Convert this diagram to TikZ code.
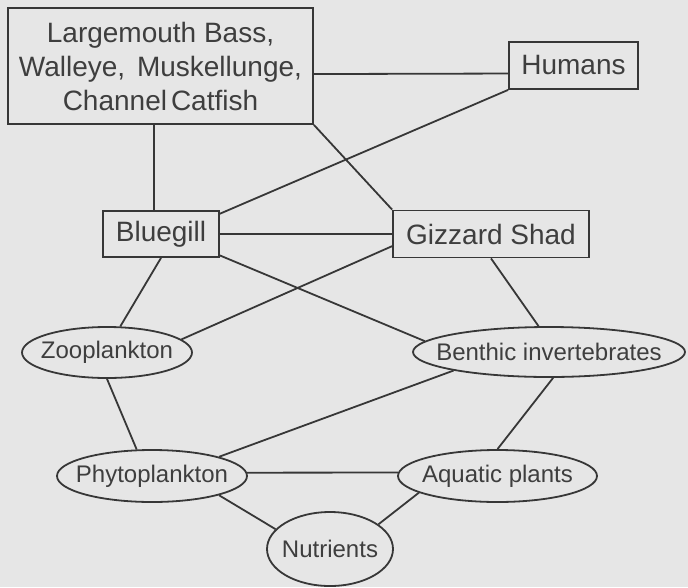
\documentclass[tikz,border=0pt]{standalone}
\usepackage{fontspec}
\setmainfont{Liberation Sans}
\usetikzlibrary{shapes.geometric}
\definecolor{bgc}{RGB}{230,230,230}
\definecolor{ink}{RGB}{55,55,55}
\definecolor{txt}{RGB}{62,62,62}
\tikzset{
  boxnode/.style={draw=ink, line width=1.8pt, rectangle, inner sep=0pt, text=txt,
    font=\fontsize{28}{34}\selectfont, align=center},
  ovalnode/.style={draw=ink, line width=1.8pt, ellipse, inner sep=0pt},
  ovaltext/.style={text=txt, font=\fontsize{24}{28}\selectfont, inner sep=0pt},
  link/.style={draw=ink, line width=1.8pt}
}
\begin{document}
\begin{tikzpicture}[x=1pt,y=-1pt]
\fill[bgc] (0,0) rectangle (688,587);
\useasboundingbox (0,0) rectangle (688,587);

\node[boxnode, minimum width=305pt, minimum height=116pt] (top) at (160.5,66)
  {Largemouth Bass,\\Walleye,\hspace{4pt} Muskellunge,\\Channel\hspace{4pt}Catfish};
\node[boxnode, minimum width=129pt, minimum height=47pt] (hum) at (573.5,65.5) {Humans};
\node[boxnode, minimum width=116pt, minimum height=46pt] (bg) at (161,234) {Bluegill};
\node[boxnode, minimum width=196pt, minimum height=47pt] (gz) at (491,234) {Gizzard Shad};

\node[ovalnode, minimum width=170pt, minimum height=51pt,
  label={[ovaltext, name=zoot]center:Zooplankton}] (zoo) at (107,352.5) {};
\node[ovalnode, minimum width=272pt, minimum height=50pt,
  label={[ovaltext, name=bent]center:Benthic invertebrates}] (ben) at (549,352) {};
\node[ovalnode, minimum width=190pt, minimum height=52pt,
  label={[ovaltext, name=phyt]center:Phytoplankton}] (phy) at (152,476) {};
\node[ovalnode, minimum width=199pt, minimum height=52pt,
  label={[ovaltext, name=aqt]center:Aquatic plants}] (aq) at (497.5,476) {};
\node[ovalnode, minimum width=126pt, minimum height=74pt,
  label={[ovaltext, name=nutt]center:Nutrients}] (nut) at (330,549) {};

\draw[link] (top.-3.4) -- (hum.-173.4);
\draw[link] ([xshift=-6.5pt]top.south) -- ([xshift=-7pt]bg.north);
\draw[link] (top.south east) -- (gz.north west);
\draw[link] (hum.south west) -- (bg.19);
\draw[link] (bg.east) -- (gz.west);
\draw[link] (bg.-20) -- (ben.175);
\draw[link] (gz.187) -- (zoo.10);
\draw[link] (bg.south) -- (zoo.63);
\draw[link] (gz.south) -- (ben.112);
\draw[link] (zoo.south) -- (phy.120);
\draw[link] (ben.191) -- (phy.16);
\draw[link] (ben.-81) -- (aq.north);
\draw[link] (phy.2) -- (aq.178);
\draw[link] (phy.-16) -- (nut.160);
\draw[link] (aq.192) -- (nut.27);
\end{tikzpicture}
\end{document}
